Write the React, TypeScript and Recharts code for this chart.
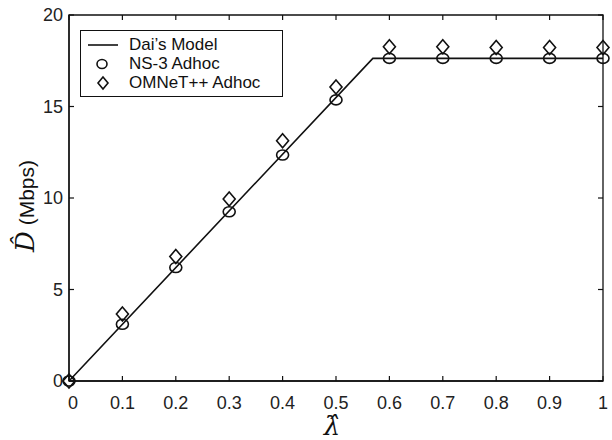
import React from 'react'
import {
  ComposedChart,
  Line,
  Scatter,
  XAxis,
  YAxis,
  ReferenceArea,
} from 'recharts'

// Dai's model: linear rise, then saturation
const modelX = [0, 0.569, 1]
const modelY = [0, 17.63, 17.63]

const lambdas = [0, 0.1, 0.2, 0.3, 0.4, 0.5, 0.6, 0.7, 0.8, 0.9, 1]
const ns3 = [0, 3.1, 6.2, 9.25, 12.35, 15.36, 17.63, 17.63, 17.63, 17.63, 17.63]
const omnet = [0, 3.66, 6.8, 9.95, 13.13, 16.07, 18.27, 18.27, 18.22, 18.22, 18.22]

const xTicks = [0, 0.1, 0.2, 0.3, 0.4, 0.5, 0.6, 0.7, 0.8, 0.9, 1]
const yTicks = [0, 5, 10, 15, 20]

const legendItems = [
  { label: 'Dai’s Model', kind: 'line' },
  { label: 'NS-3 Adhoc', kind: 'circle' },
  { label: 'OMNeT++ Adhoc', kind: 'diamond' },
]

const modelData = modelX.map((x, i) => ({ x, y: modelY[i] }))
const ns3Data = lambdas.map((x, i) => ({ x, y: ns3[i] }))
const omnetData = lambdas.map((x, i) => ({ x, y: omnet[i] }))

const W = 612
const H = 440
const LEFT = 69
const RIGHT = 603
const TOP = 15
const BOTTOM = 381
const INK = '#111'
const FONT = '"Liberation Sans", Arial, sans-serif'
const SERIF = '"DejaVu Serif", serif'

const XTick = (props: any) => {
  const { x, payload } = props
  return (
    <g>
      <line x1={x} x2={x} y1={BOTTOM} y2={BOTTOM - 5} stroke={INK} strokeWidth={1.2} />
      <line x1={x} x2={x} y1={TOP} y2={TOP + 5} stroke={INK} strokeWidth={1.2} />
      <text x={x + (payload.value === 0 ? 4 : 0)} y={409} textAnchor="middle" style={{ fontSize: 18, fontFamily: FONT }} fill="#222">
        {String(payload.value)}
      </text>
    </g>
  )
}

const YTick = (props: any) => {
  const { y, payload } = props
  return (
    <g>
      <line x1={LEFT} x2={LEFT + 5} y1={y} y2={y} stroke={INK} strokeWidth={1.2} />
      <line x1={RIGHT} x2={RIGHT - 5} y1={y} y2={y} stroke={INK} strokeWidth={1.2} />
      <text x={LEFT - 6} y={y + 6} textAnchor="end" style={{ fontSize: 18, fontFamily: FONT }} fill="#222">
        {String(payload.value)}
      </text>
    </g>
  )
}

const Circle = (props: any) => {
  const { cx, cy } = props
  return <ellipse cx={cx} cy={cy} rx={6} ry={5} fill="none" stroke={INK} strokeWidth={1.6} />
}

const Diamond = (props: any) => {
  const { cx, cy } = props
  return (
    <path
      d={`M${cx},${cy - 7} L${cx + 6},${cy} L${cx},${cy + 7} L${cx - 6},${cy} Z`}
      fill="none"
      stroke={INK}
      strokeWidth={1.6}
    />
  )
}

const LegendBox = () => (
  <div
    style={{
      position: 'absolute',
      left: 80,
      top: 30,
      width: 203,
      height: 67,
      border: `1.5px solid ${INK}`,
      background: '#fff',
      fontFamily: FONT,
      fontSize: 17,
      color: '#111',
      boxSizing: 'border-box',
      paddingTop: 4,
    }}
  >
    {legendItems.map((it) => (
      <div key={it.label} style={{ display: 'flex', alignItems: 'center', height: 19 }}>
        <svg width={48} height={19} style={{ flex: 'none' }}>
          {it.kind === 'line' && <line x1={7} x2={37} y1={10} y2={10} stroke={INK} strokeWidth={1.6} />}
          {it.kind === 'circle' && <ellipse cx={21} cy={10} rx={5} ry={4.5} fill="none" stroke={INK} strokeWidth={1.6} />}
          {it.kind === 'diamond' && <path d="M22,4 L27,10 L22,16 L17,10 Z" fill="none" stroke={INK} strokeWidth={1.6} />}
        </svg>
        <span style={{ whiteSpace: 'nowrap' }}>{it.label}</span>
      </div>
    ))}
  </div>
)

// axis titles drawn as an overlay so the chart layout does not resize them
const AxisTitles = () => (
  <svg width={W} height={H} style={{ position: 'absolute', left: 0, top: 0, pointerEvents: 'none' }}>
    <text transform="translate(34,206) rotate(-90)" textAnchor="middle" fill="#111">
      <tspan style={{ fontFamily: SERIF, fontStyle: 'italic', fontSize: 26 }}>D̂</tspan>
      <tspan style={{ fontFamily: FONT, fontSize: 21 }}> (Mbps)</tspan>
    </text>
    <text x={332} y={435} textAnchor="middle" style={{ fontSize: 26, fontFamily: SERIF, fontStyle: 'italic' }} fill="#111">
      λ̂
    </text>
  </svg>
)

export default function App() {
  return (
    <div style={{ position: 'absolute', left: 0, top: 0, width: W, height: H, background: '#fff' }}>
      <ComposedChart width={W} height={H} margin={{ top: TOP, right: W - RIGHT, bottom: 0, left: 0 }}>
        <XAxis
          type="number"
          dataKey="x"
          domain={[0, 1]}
          ticks={xTicks}
          tick={<XTick />}
          tickLine={false}
          height={H - BOTTOM}
          axisLine={{ stroke: INK, strokeWidth: 1.3 }}
          allowDuplicatedCategory={false}
        />
        <YAxis
          type="number"
          dataKey="y"
          domain={[0, 20]}
          ticks={yTicks}
          tick={<YTick />}
          tickLine={false}
          width={LEFT}
          axisLine={{ stroke: INK, strokeWidth: 1.3 }}
        />
        <ReferenceArea x1={0} x2={1} y1={0} y2={20} fill="none" stroke={INK} strokeWidth={1.3} ifOverflow="visible" />
        <Line
          data={modelData}
          dataKey="y"
          type="linear"
          stroke={INK}
          strokeWidth={1.6}
          dot={false}
          activeDot={false}
          isAnimationActive={false}
          legendType="none"
        />
        <Scatter data={ns3Data} dataKey="y" shape={<Circle />} isAnimationActive={false} legendType="none" />
        <Scatter data={omnetData} dataKey="y" shape={<Diamond />} isAnimationActive={false} legendType="none" />
      </ComposedChart>
      <LegendBox />
      <AxisTitles />
    </div>
  )
}
